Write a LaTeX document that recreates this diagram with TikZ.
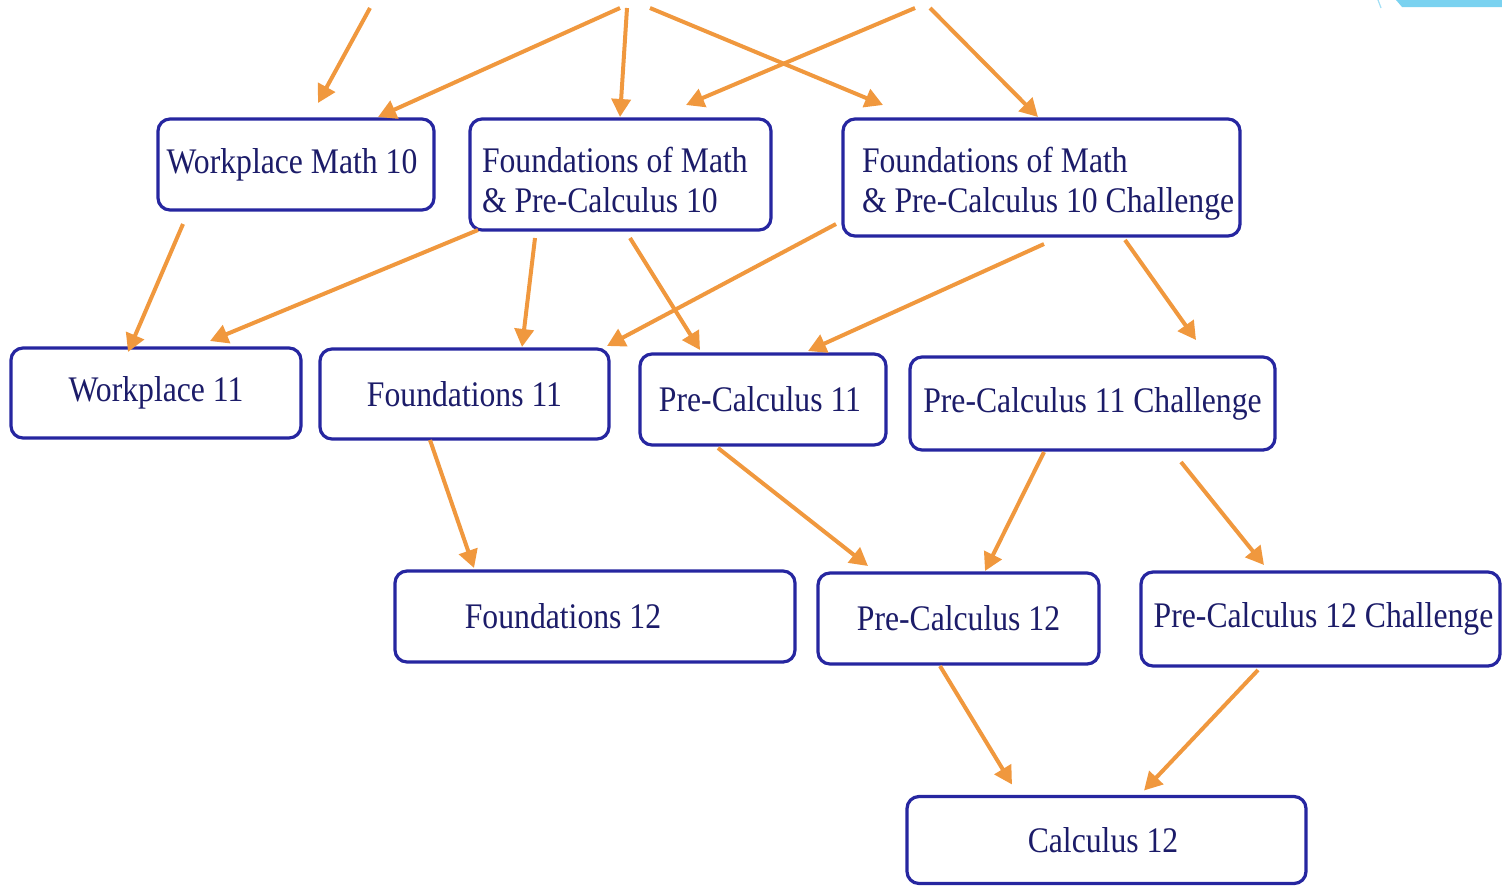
\documentclass[tikz,border=0pt]{standalone}
\usepackage{fontspec}
\setmainfont{Liberation Serif}[FakeStretch=0.88]
\usetikzlibrary{arrows.meta,calc}
\definecolor{arrorange}{RGB}{240,152,62}
\definecolor{boxblue}{RGB}{38,38,160}
\definecolor{textblue}{RGB}{28,28,105}
\definecolor{decocyan}{RGB}{122,210,240}
\newcommand{\twolines}[4]{\makebox[#1][l]{\hspace*{#2}\raisebox{#3}[\height][\depth]{\begin{tabular}{@{}l@{}}#4\end{tabular}}}}
\begin{document}
\begin{tikzpicture}[x=0.5pt,y=-0.5pt,
  box/.style={draw=boxblue, line width=1.6pt, rounded corners=6pt, text=textblue,
    font=\fontsize{18}{20}\selectfont, inner sep=0pt, outer sep=0pt, fill=white},
  arr/.style={draw=arrorange, line width=2pt, -{Triangle[length=9pt,width=9.5pt]}}]
\useasboundingbox (0,0) rectangle (1502,885);
\clip (0,0) rectangle (1502,885);
% decoration top right
\fill[decocyan] (1396,0) -- (1502,0) -- (1502,7) -- (1402,7) -- cycle;
\draw[decocyan!70, line width=0.6pt] (1378,0) -- (1381,8);
% nodes
\node[box, minimum width=138pt, minimum height=45.5pt] (wm10) at (296,164.5) {Workplace Math 10\hspace{4pt}\null};
\node[box, minimum width=150.5pt, minimum height=55.5pt] (fpc10) at (620.5,174.5)
  {\twolines{150.5pt}{6pt}{-5pt}{Foundations of Math\\\& Pre-Calculus 10}};
\node[box, minimum width=198.5pt, minimum height=58.5pt] (ch10) at (1041.5,177.5)
  {\twolines{198.5pt}{9.5pt}{-3.5pt}{Foundations of Math\\\& Pre-Calculus 10 Challenge}};
\node[box, minimum width=145pt, minimum height=45pt] (w11) at (156,393) {Workplace 11};
\node[box, minimum width=144.5pt, minimum height=45pt] (f11) at (464.5,394) {Foundations 11};
\node[box, minimum width=123pt, minimum height=45.5pt] (pc11) at (763,399.5) {Pre-Calculus 11\hspace{3pt}\null};
\node[box, minimum width=182.5pt, minimum height=46.5pt] (pc11c) at (1092.5,403.5) {Pre-Calculus 11 Challenge};
\node[box, minimum width=200pt, minimum height=45.5pt] (f12) at (595,616.5) {Foundations 12\hspace{32pt}\null};
\node[box, minimum width=140.5pt, minimum height=45.5pt] (pc12) at (958.5,618.5) {Pre-Calculus 12};
\node[box, minimum width=179.5pt, minimum height=47pt] (pc12c) at (1320.5,619) {\hspace*{3pt}Pre-Calculus 12 Challenge};
\node[box, minimum width=199.5pt, minimum height=43.5pt] (calc12) at (1106.5,840) {Calculus 12\hspace{3.5pt}\null};
% free ends at the top
\coordinate (t1) at (370,8);
\coordinate (t2) at (620,8);
\coordinate (t3) at (627,8);
\coordinate (t4) at (650,8);
\coordinate (t5) at (915,8);
\coordinate (t6) at (930,8);
% top arrows
\draw[arr] (t1) -- ($(wm10.north west)+(160,-16)$);
\draw[arr] (t2) -- ($(wm10.north west)+(220,-2)$);
\draw[arr] (t3) -- ($(fpc10.north west)+(150,-2)$);
\draw[arr] (t4) -- ($(ch10.north west)+(40,-14)$);
\draw[arr] (t5) -- ($(fpc10.north west)+(216,-14)$);
\draw[arr] (t6) -- ($(ch10.north west)+(195,-2)$);
% grade 10 -> 11
\draw[arr] ($(wm10.south west)+(25,14)$) -- ($(w11.north west)+(117,4)$);
\draw[arr] ($(fpc10.south west)+(8,0)$) -- ($(w11.north west)+(199,-7)$);
\draw[arr] ($(fpc10.south west)+(65,8)$) -- ($(f11.north west)+(202,-2)$);
\draw[arr] ($(fpc10.south west)+(160,8)$) -- ($(pc11.north west)+(60,-4)$);
\draw[arr] ($(ch10.south west)+(-7,-12)$) -- ($(f11.north east)+(-2,-3)$);
\draw[arr] ($(ch10.south west)+(201,8)$) -- ($(pc11.north west)+(168,-3)$);
\draw[arr] ($(ch10.south west)+(282,4)$) -- ($(pc11c.north west)+(286,-17)$);
% grade 11 -> 12
\draw[arr] ($(f11.south west)+(110,1)$) -- ($(f12.north west)+(79,-3)$);
\draw[arr] ($(pc11.south west)+(78,3)$) -- ($(pc12.north west)+(50,-7)$);
\draw[arr] ($(pc11c.south west)+(134,2)$) -- ($(pc12.north west)+(167,-2)$);
\draw[arr] ($(pc11c.south west)+(271,12)$) -- ($(pc12c.north west)+(123,-7)$);
% grade 12 -> calculus
\draw[arr] ($(pc12.south west)+(122,2)$) -- ($(calc12.north west)+(105,-12)$);
\draw[arr] ($(pc12c.south west)+(117,4)$) -- ($(calc12.north west)+(237,-6)$);
\end{tikzpicture}
\end{document}
